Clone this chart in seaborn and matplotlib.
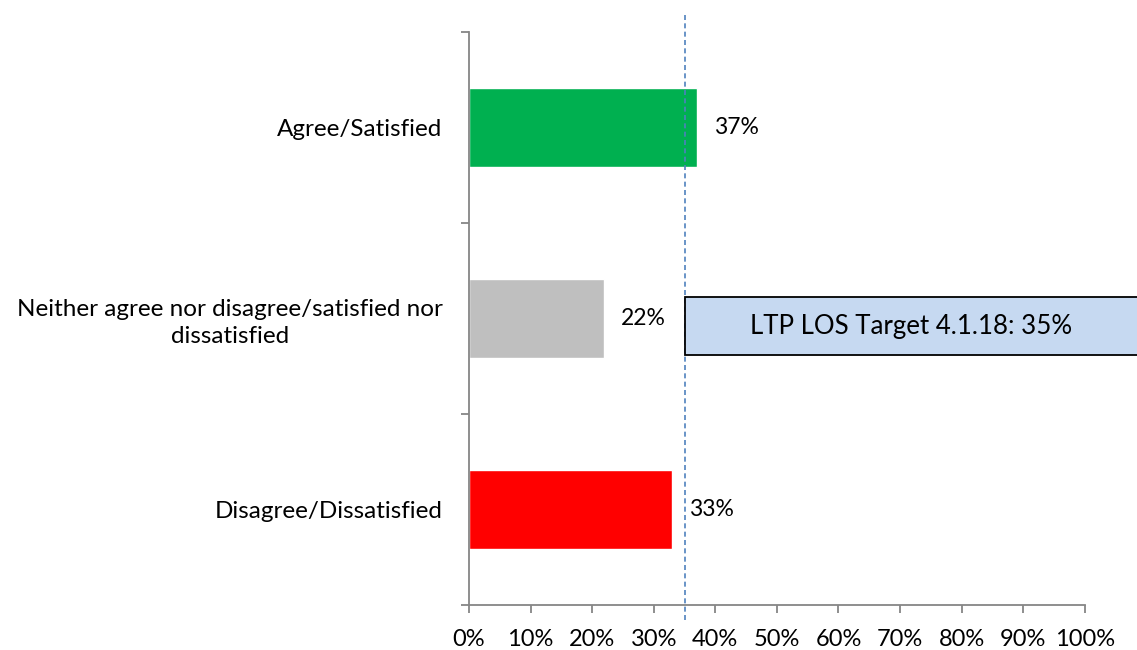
import matplotlib
matplotlib.use("Agg")
import matplotlib.pyplot as plt
import matplotlib.transforms as mtransforms
from matplotlib.patches import Rectangle
import seaborn as sns
import pandas as pd

categories = ["Agree/Satisfied",
              "Neither agree nor disagree/satisfied nor\ndissatisfied",
              "Disagree/Dissatisfied"]
values = [37, 22, 33]
labels = ["37%", "22%", "33%"]
colors = ["#00B050", "#BFBFBF", "#FF0000"]
target = 35
target_label = "LTP LOS Target 4.1.18: 35%"
xticks = [0, 10, 20, 30, 40, 50, 60, 70, 80, 90, 100]

sns.set_theme(style="white")
plt.rcParams['font.family'] = ['Lato', 'DejaVu Sans']

df = pd.DataFrame({"cat": categories, "val": values})

fig = plt.figure(figsize=(11.37, 6.5), dpi=100)
ax = fig.add_axes([0.4125, 0.0692, 0.5416, 0.8816])

sns.barplot(data=df, y="cat", x="val", hue="cat", palette=colors,
            orient="h", width=0.41, legend=False, ax=ax, saturation=1)

ax.set_xlim(0, 100)
ax.set_ylim(2.5, -0.5)
ax.set_xlabel("")
ax.set_ylabel("")

FS = 16.5
ax.set_xticks(xticks)
ax.set_xticklabels([f"{t}%" for t in xticks], fontsize=17, color="black")
ax.set_yticks(range(len(categories)))
ax.set_yticklabels(categories, fontsize=17.5, color="black", ha="right",
                   multialignment="center", linespacing=1.35)
ax.tick_params(axis="y", which="major", length=0, pad=19)
ax.set_yticks([-0.5, 0.5, 1.5, 2.5], minor=True)
ax.tick_params(axis="y", which="minor", length=6, width=1.3, color="#868686",
               direction="out", left=True)
ax.tick_params(axis="x", which="major", length=6, width=1.3, color="#868686",
               direction="out", bottom=True, pad=11)

for s in ["top", "right"]:
    ax.spines[s].set_visible(False)
for s in ["left", "bottom"]:
    ax.spines[s].set_color("#868686")
    ax.spines[s].set_linewidth(1.3)

for i, (v, lab) in enumerate(zip(values, labels)):
    ax.annotate(lab, xy=(v, i), xytext=(12, 0), textcoords="offset points",
                ha="left", va="center", fontsize=FS, color="black")

trans = mtransforms.blended_transform_factory(ax.transData, ax.transAxes)
ax.plot([target, target], [1.03, -0.03], transform=trans, color="#4F81BD",
        linestyle=(0, (3, 2)), linewidth=1.2, clip_on=False, zorder=5)

rect = Rectangle((target, 0.89), 75, 0.3, facecolor="#C6D9F1",
                 edgecolor="black", linewidth=1.3, clip_on=False, zorder=6)
ax.add_patch(rect)
ax.text(71.8, 1.04, target_label, ha="center", va="center", fontsize=18.6,
        color="black", zorder=7, clip_on=False)

fig.savefig("out.png", dpi=100)
